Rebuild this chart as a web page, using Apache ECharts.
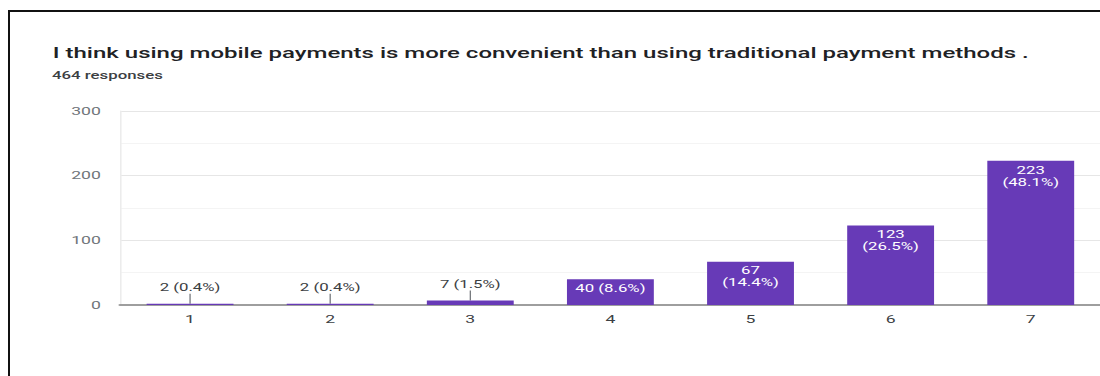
<!DOCTYPE html>
<html>
<head>
<meta charset="utf-8">
<script src="https://cdn.jsdelivr.net/npm/echarts@6/dist/echarts.min.js"></script>
<style>
  html, body { margin: 0; padding: 0; background: #fff; overflow: hidden; }
  #wrap { position: relative; width: 1100px; height: 376px; overflow: hidden; }
  /* the chart is drawn narrow and stretched sideways, like the screenshot it sits in */
  #chart { position: absolute; left: 0; top: 0; width: 687.5px; height: 376px;
           transform: scaleX(1.6); transform-origin: 0 0; }
  #frame { position: absolute; left: 8px; top: 10px; width: 1200px; height: 500px;
           border-top: 2px solid #111; border-left: 2px solid #111; pointer-events: none; }
</style>
</head>
<body>
<div id="wrap">
  <div id="chart"></div>
  <div id="frame"></div>
</div>
<script>
// Likert-scale responses (1 = strongly disagree ... 7 = strongly agree)
const categories = ['1', '2', '3', '4', '5', '6', '7'];
const counts = [2, 2, 7, 40, 67, 123, 223];
const percentLabels = ['0.4%', '0.4%', '1.5%', '8.6%', '14.4%', '26.5%', '48.1%'];
const yTicks = [0, 100, 200, 300];

const questionText = 'I think using mobile payments is more convenient than using traditional payment methods .';
const responseText = '464 responses';

const PURPLE = '#673ab7';
const FONT = 'Roboto, Arial, sans-serif';

// short bars carry their label above with a small leader line
const isShort = v => v < 20;

const barData = counts.map((v, i) => {
  const item = { value: v };
  if (isShort(v)) {
    item.label = { position: 'top', distance: 2, color: '#3c4043' };
    item.labelLine = { show: true, lineStyle: { color: '#5f6368', width: 0.7 } };
  }
  return item;
});

const chart = echarts.init(document.getElementById('chart'), null, { renderer: 'svg' });

chart.setOption({
  animation: false,
  backgroundColor: '#fff',
  title: [
    {
      text: questionText,
      left: 28,
      top: 40,
      textStyle: { fontFamily: FONT, fontSize: 15, fontWeight: 500, color: '#202124' }
    },
    {
      text: responseText,
      left: 27.5,
      top: 65,
      textStyle: { fontFamily: FONT, fontSize: 10.5, fontWeight: 500, color: '#3c4043' }
    }
  ],
  grid: { left: 75, top: 111, width: 617.8, bottom: 71, containLabel: false },
  xAxis: {
    type: 'category',
    data: categories,
    axisLine: { show: true, lineStyle: { color: '#9e9e9e', width: 2 } },
    axisTick: { show: false },
    axisLabel: { margin: 9, fontFamily: FONT, fontSize: 11, color: '#3c4043' },
    splitLine: { show: false }
  },
  yAxis: {
    type: 'value',
    min: yTicks[0],
    max: yTicks[yTicks.length - 1],
    interval: yTicks[1] - yTicks[0],
    axisLine: { show: true, lineStyle: { color: '#ececec', width: 1 } },
    axisTick: { show: false },
    axisLabel: { margin: 12, fontFamily: FONT, fontSize: 11, color: '#70757a' },
    splitLine: { show: true, lineStyle: { color: '#e6e6e6', width: 1 } },
    minorTick: { show: false, splitNumber: 2 },
    minorSplitLine: { show: true, lineStyle: { color: '#f4f4f4', width: 1 } }
  },
  series: [{
    type: 'bar',
    data: barData,
    barWidth: '62%',
    itemStyle: { color: PURPLE },
    label: {
      show: true,
      position: 'insideTop',
      distance: 3,
      fontFamily: FONT,
      fontSize: 10.5,
      lineHeight: 12,
      color: '#ffffff',
      formatter: p => {
        const v = counts[p.dataIndex];
        const pct = percentLabels[p.dataIndex];
        return v < 60 ? v + ' (' + pct + ')' : v + '\n(' + pct + ')';
      }
    },
    labelLayout: p => (isShort(counts[p.dataIndex]) ? { dy: -8 } : {})
  }]
});
</script>
</body>
</html>
